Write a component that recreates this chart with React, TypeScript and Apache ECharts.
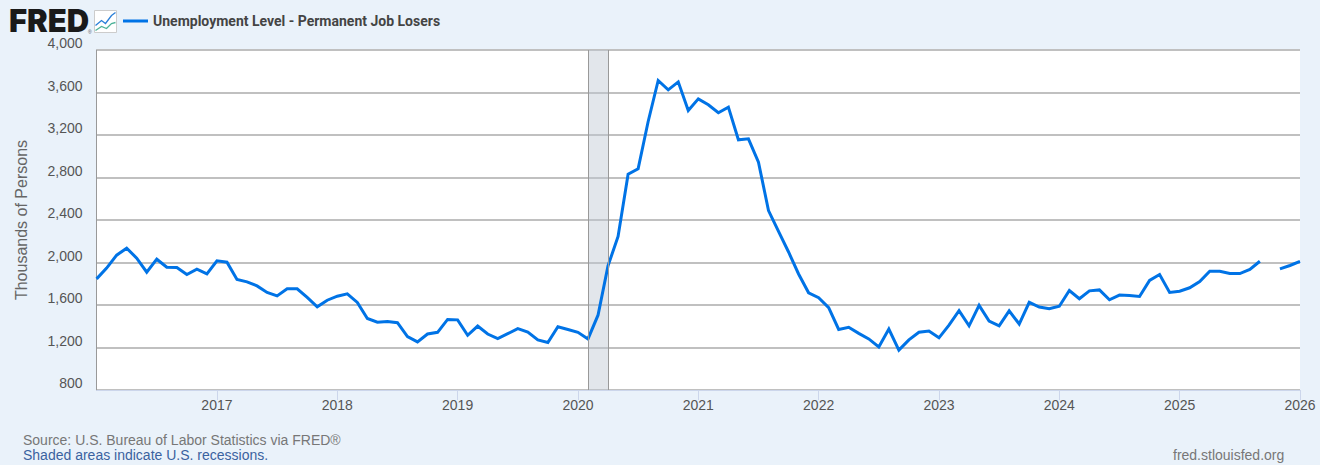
import React, { useEffect, useRef } from "react";
import * as echarts from "echarts";

const seriesName = "Unemployment Level - Permanent Job Losers";
const yAxisTitle = "Thousands of Persons";
const firstYear = 2016;
const lastYear = 2026;
const recessionStart = "2020-02";
const recessionEnd = "2020-04";

const v2016 = [1846, 1947, 2069, 2135, 2041, 1909, 2031, 1956, 1953, 1887, 1937, 1893];
const v2017 = [2016, 2003, 1840, 1818, 1780, 1718, 1686, 1752, 1752, 1671, 1583, 1645];
const v2018 = [1683, 1705, 1624, 1473, 1438, 1445, 1433, 1302, 1253, 1327, 1343, 1464];
const v2019 = [1460, 1315, 1402, 1327, 1284, 1330, 1377, 1346, 1271, 1247, 1395, 1370];
const v2020 = [1343, 1281, 1504, 1970, 2245, 2831, 2882, 3327, 3713, 3625, 3700, 3431];
const v2021 = [3540, 3484, 3409, 3462, 3155, 3164, 2944, 2489, 2292, 2099, 1892, 1715];
const v2022 = [1668, 1575, 1370, 1390, 1333, 1281, 1206, 1374, 1175, 1272, 1343, 1355];
const v2023 = [1291, 1411, 1547, 1404, 1597, 1449, 1403, 1545, 1421, 1625, 1581, 1566];
const v2024 = [1588, 1736, 1659, 1733, 1742, 1649, 1693, 1689, 1680, 1831, 1887, 1718];
const v2025 = [1730, 1762, 1821, 1918, 1918, 1896, 1896, 1934, 2012, null, 1940, 1972];
const v2026 = [2010];

const values = [...v2016, ...v2017, ...v2018, ...v2019, ...v2020, ...v2021, ...v2022, ...v2023, ...v2024, ...v2025, ...v2026];
const categories: string[] = [];
for (let y = firstYear; y <= lastYear; y++) {
  for (let m = 1; m <= 12; m++) {
    if (y === lastYear && m > 1) break;
    categories.push(`${y}-${String(m).padStart(2, "0")}`);
  }
}

const LINE = "#0073e6";
const BG = "#eaf2fa";
const SANS = "'Liberation Sans', Arial, sans-serif";

export default function App() {
  const ref = useRef<HTMLDivElement>(null);
  useEffect(() => {
    const chart = echarts.init(ref.current!, null, { renderer: "svg" });
    const isYearTick = (i: number) => i % 12 === 0 && i > 0;
    chart.setOption({
      animation: false,
      backgroundColor: BG,
      grid: { left: 96.6, right: 20, top: 50, bottom: 75, show: true, backgroundColor: "#fff", borderWidth: 0 },
      legend: {
        left: 118,
        top: 9,
        itemWidth: 25,
        itemHeight: 3,
        itemGap: 5,
        icon: "rect",
        textStyle: { fontFamily: "Roboto", fontWeight: 700, fontSize: 14, color: "#444" },
        data: [seriesName],
      },
      xAxis: {
        type: "category",
        data: categories,
        boundaryGap: false,
        axisLine: { onZero: false, lineStyle: { color: "#ccd6eb", width: 1 } },
        axisTick: { show: true, length: 10, interval: (i: number) => isYearTick(i), lineStyle: { color: "#ccd6eb" } },
        axisLabel: {
          interval: (i: number) => isYearTick(i),
          formatter: (v: string) => v.slice(0, 4),
          fontFamily: SANS,
          fontSize: 14,
          color: "#555",
          margin: 8,
          showMaxLabel: true,
        },
        splitLine: { show: false },
      },
      yAxis: {
        type: "value",
        min: 800,
        max: 4000,
        interval: 400,
        name: yAxisTitle,
        nameLocation: "middle",
        nameGap: 67,
        nameTextStyle: { fontFamily: SANS, fontSize: 16, color: "#666" },
        axisLine: { show: true, lineStyle: { color: "#999", width: 1 } },
        axisTick: { show: false },
        axisLabel: {
          fontFamily: SANS,
          fontSize: 14,
          color: "#555",
          margin: 14,
          verticalAlign: "bottom",
          formatter: (v: number) => v.toLocaleString("en-US"),
        },
        splitLine: { show: true, lineStyle: { color: "#c0c0c0", width: 2 } },
      },
      series: [
        {
          name: seriesName,
          type: "line",
          data: values,
          connectNulls: false,
          showSymbol: false,
          symbol: "none",
          lineStyle: { color: LINE, width: 3, join: "miter" },
          itemStyle: { color: LINE },
          markArea: {
            silent: true,
            itemStyle: { color: "rgba(190,200,210,0.45)", borderWidth: 0 },
            data: [[{ xAxis: recessionStart }, { xAxis: recessionEnd }]],
          },
          markLine: {
            silent: true,
            symbol: "none",
            label: { show: false },
            lineStyle: { color: "#999", width: 1, type: "solid" },
            data: [{ xAxis: recessionStart }, { xAxis: recessionEnd }],
          },
        },
      ],
      graphic: [
        { type: "text", left: 9, top: 5, style: { text: "FRED", font: "900 31px Inter", lineHeight: 24, fill: "#1a1a1a" } },
        { type: "text", left: 88, top: 29, style: { text: "®", font: "5px Arial", fill: "#555" } },
        {
          type: "group",
          left: 93,
          top: 10,
          children: [
            { type: "rect", shape: { x: 0, y: 0, width: 22, height: 22 }, style: { fill: "#fff", stroke: "#ccc", lineWidth: 1 } },
            {
              type: "polyline",
              shape: { points: [[1, 15], [7, 10], [11, 13], [17, 5], [21, 2]] },
              style: { fill: "none", stroke: "#2a7fd8", lineWidth: 1.3 },
            },
            {
              type: "polyline",
              shape: { points: [[1, 20], [7, 16], [12, 18], [17, 13], [21, 12]] },
              style: { fill: "none", stroke: "#4db39a", lineWidth: 1.3 },
            },
          ],
        },
        {
          type: "text",
          left: 23,
          top: 433,
          style: { text: "Source: U.S. Bureau of Labor Statistics via FRED®", font: `14px ${SANS}`, fill: "#777" },
        },
        {
          type: "text",
          left: 23,
          top: 448,
          style: { text: "Shaded areas indicate U.S. recessions.", font: `14px ${SANS}`, fill: "#3a62a0" },
        },
        {
          type: "text",
          left: 1173,
          top: 448,
          style: { text: "fred.stlouisfed.org", font: `14px ${SANS}`, fill: "#777" },
        },
      ],
    });
    return () => chart.dispose();
  }, []);
  return <div ref={ref} style={{ position: "absolute", left: 0, top: 0, width: 1320, height: 465 }} />;
}
